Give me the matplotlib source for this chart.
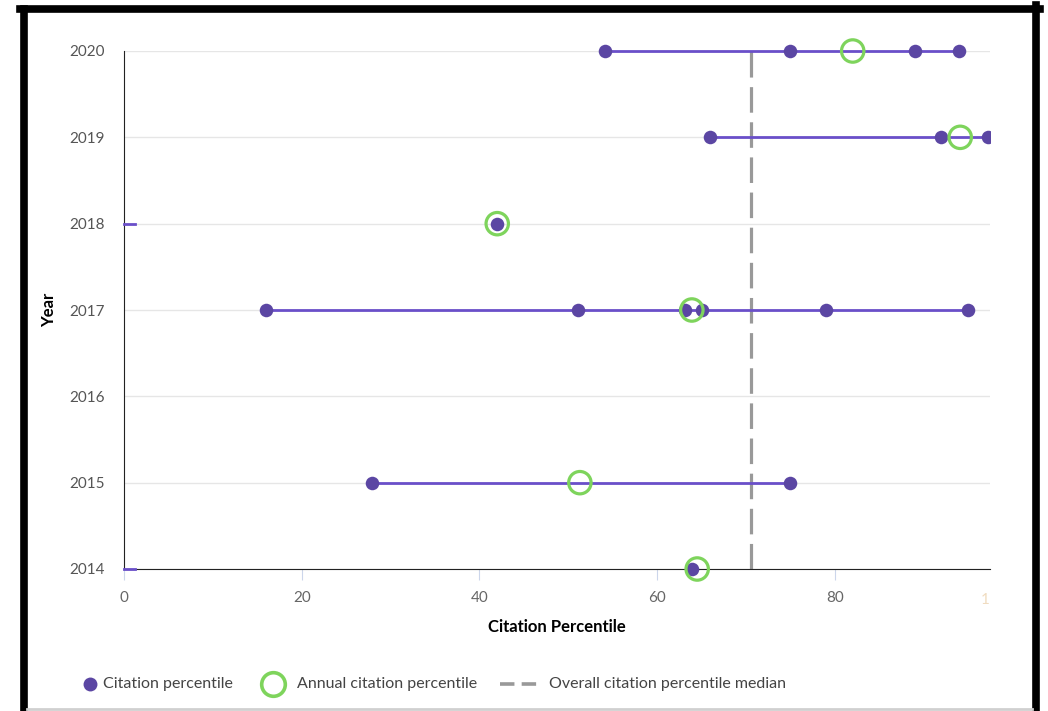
import matplotlib.pyplot as plt
from matplotlib.lines import Line2D
from matplotlib.patches import Rectangle

plt.rcParams["font.family"] = ["Lato", "DejaVu Sans"]

years = [2020, 2019, 2018, 2017, 2015, 2014]
citation_pct = [
    [54.1, 74.9, 89.0, 94.0],
    [65.9, 91.9, 97.2],
    [42.0],
    [16.0, 51.1, 63.1, 65.0, 79.0, 95.0],
    [27.9, 74.9],
    [63.9],
]
annual_pct = [82.0, 94.1, 42.0, 63.9, 51.3, 64.5]
overall_median = 70.5
stub_years = [2018, 2014]
stub_end = 1.2
x_ticks = [0, 20, 40, 60, 80]

purple_line = "#6a4fc9"
purple_dot = "#5b46a3"
green = "#7ed45c"
grey = "#999999"

fig = plt.figure(figsize=(10.48, 7.11), dpi=100)
ax = fig.add_axes([124 / 1048, 1 - 569 / 711, (990 - 124) / 1048, (569 - 51) / 711])

clip = Rectangle((0, -0.1), 1, 1.2, transform=ax.transAxes, visible=False)
ax.add_patch(clip)

for yr, vals in zip(years, citation_pct):
    if len(vals) > 1:
        ln, = ax.plot([min(vals), max(vals)], [yr, yr], color=purple_line, lw=2, zorder=3)
        ln.set_clip_path(clip)
    sc = ax.scatter(vals, [yr] * len(vals), s=95, color=purple_dot, zorder=4, lw=0)
    sc.set_clip_path(clip)

for yr in stub_years:
    ln, = ax.plot([0, stub_end], [yr, yr], color=purple_line, lw=2, zorder=3)
    ln.set_clip_on(False)

sc = ax.scatter(annual_pct, years, s=260, facecolors="none", edgecolors=green,
                linewidths=2.3, zorder=5)
sc.set_clip_path(clip)

ax.axvline(overall_median, color=grey, lw=2.3, ls=(0, (8, 3)), zorder=2)

ax.set_yticks(range(2014, 2021))
ax.set_xticks(x_ticks)
ax.set_xlim(0, 97.45)
ax.set_ylim(2014, 2020)
ax.grid(axis="y", color="#e6e6e6", lw=1, zorder=0)
ax.set_axisbelow(True)
for s in ["top", "right"]:
    ax.spines[s].set_visible(False)
ax.spines["left"].set_color("#222222")
ax.spines["bottom"].set_color("#222222")
ax.tick_params(axis="y", length=0, pad=14, labelsize=11, labelcolor="#555555")
ax.tick_params(axis="x", length=8, color="#ccd6eb", pad=8, labelsize=11,
               labelcolor="#666666")
# clipped "100" label at the right edge
ax.text(1.0, -0.06, "1", transform=ax.transAxes, ha="right", va="center",
        fontsize=11, color="#f0dcc0")

ax.set_xlabel("Citation Percentile", fontsize=12, fontweight="bold")
ax.set_ylabel("Year", fontsize=12, fontweight="bold")
ax.xaxis.set_label_coords(0.5, -0.097)
ax.yaxis.set_label_coords(-0.077, 0.5)

# legend drawn by hand along the bottom
ly = 1 - 684 / 711
fig.add_artist(Line2D([90 / 1048], [ly], marker="o", color=purple_dot, markersize=10,
                      markeredgewidth=0, transform=fig.transFigure))
fig.text(103 / 1048, ly, "Citation percentile", fontsize=11.5, color="#444444",
         va="center")
fig.add_artist(Line2D([273 / 1048], [ly], marker="o", markerfacecolor="none",
                      markeredgecolor=green, markeredgewidth=2.6, markersize=17,
                      transform=fig.transFigure))
fig.text(297 / 1048, ly, "Annual citation percentile", fontsize=11.5,
         color="#444444", va="center")
fig.add_artist(Line2D([500 / 1048, 540 / 1048], [ly, ly], color=grey, lw=2.6,
                      ls=(0, (4, 2)), transform=fig.transFigure))
fig.text(549 / 1048, ly, "Overall citation percentile median", fontsize=11.5,
         color="#444444", va="center")

# black frame around the screenshot
fig.add_artist(Line2D([23.5 / 1048, 23.5 / 1048], [0, 1 - 8.5 / 711], color="black",
                      lw=5.5, transform=fig.transFigure))
fig.add_artist(Line2D([20 / 1048, 1040 / 1048], [1 - 8.5 / 711, 1 - 8.5 / 711],
                      color="black", lw=5.5, transform=fig.transFigure))
fig.add_artist(Line2D([1036 / 1048, 1036 / 1048], [0, 1 - 5 / 711], color="black",
                      lw=5.5, transform=fig.transFigure))
fig.add_artist(Line2D([27 / 1048, 1032 / 1048], [2.5 / 711, 2.5 / 711],
                      color="#d0d0d0", lw=2, transform=fig.transFigure))

fig.savefig("out.png", dpi=100)
